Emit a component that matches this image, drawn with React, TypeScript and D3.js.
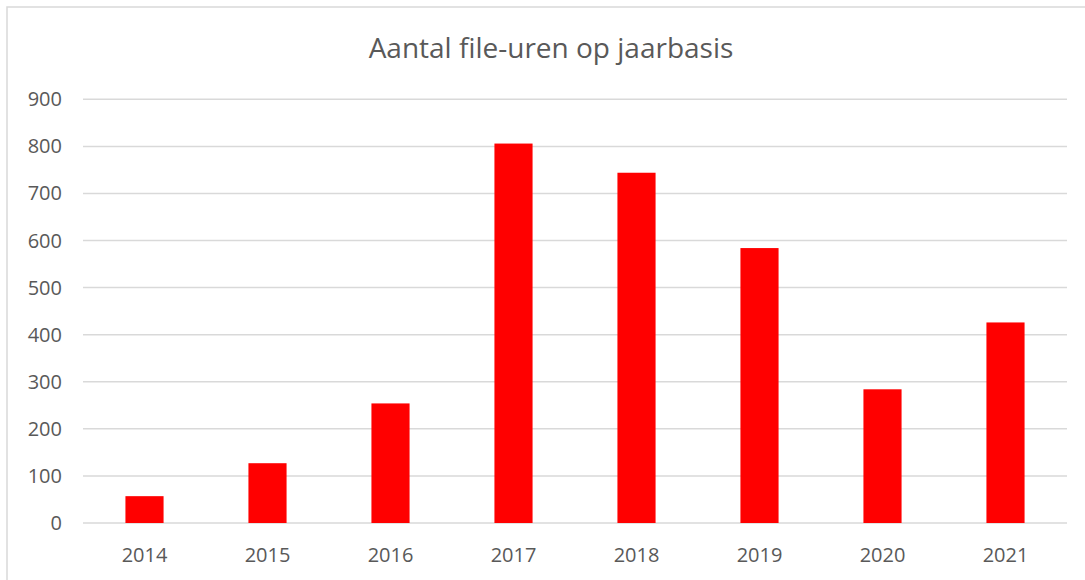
import * as d3 from "d3";
import { useEffect, useRef } from "react";

const years = ["2014", "2015", "2016", "2017", "2018", "2019", "2020", "2021"];
const fileUren = [57, 127, 254, 806, 744, 584, 284, 426];
const yTicks = [0, 100, 200, 300, 400, 500, 600, 700, 800, 900];
const title = "Aantal file-uren op jaarbasis";

const width = 1085;
const height = 580;

export default function App() {
  const svgRef = useRef<SVGSVGElement | null>(null);

  useEffect(() => {
    if (!svgRef.current) return;
    const svg = d3.select(svgRef.current);
    svg.selectAll("*").remove();

    const font = "'Open Sans', sans-serif";
    const textColor = "#595959";
    const gridColor = "#d9d9d9";

    // chart frame (only top and left edges are visible in the crop)
    svg
      .append("path")
      .attr("d", `M7,${height} L7,7 L${width},7`)
      .attr("fill", "none")
      .attr("stroke", gridColor)
      .attr("stroke-width", 1.5);

    const x = d3
      .scaleBand()
      .domain(years)
      .range([83, 1067])
      .paddingInner(0.69)
      .paddingOuter(0.345);

    const y = d3.scaleLinear().domain([0, 900]).range([523, 99.3]);

    // gridlines
    svg
      .append("g")
      .selectAll("line")
      .data(yTicks)
      .join("line")
      .attr("x1", 83)
      .attr("x2", 1067)
      .attr("y1", (d) => y(d))
      .attr("y2", (d) => y(d))
      .attr("stroke", gridColor)
      .attr("stroke-width", 1.5);

    // y labels
    svg
      .append("g")
      .selectAll("text")
      .data(yTicks)
      .join("text")
      .attr("x", 62)
      .attr("y", (d) => y(d))
      .attr("dy", "0.35em")
      .attr("text-anchor", "end")
      .attr("font-family", font)
      .attr("font-size", 20)
      .attr("fill", textColor)
      .text((d) => d);

    // bars
    svg
      .append("g")
      .selectAll("rect")
      .data(fileUren)
      .join("rect")
      .attr("x", (_, i) => x(years[i]) as number)
      .attr("y", (d) => y(d))
      .attr("width", x.bandwidth())
      .attr("height", (d) => y(0) - y(d))
      .attr("fill", "#ff0000");

    // x labels
    svg
      .append("g")
      .selectAll("text")
      .data(years)
      .join("text")
      .attr("x", (d) => (x(d) as number) + x.bandwidth() / 2)
      .attr("y", 562)
      .attr("text-anchor", "middle")
      .attr("font-family", font)
      .attr("font-size", 20)
      .attr("fill", textColor)
      .text((d) => d);

    svg
      .append("text")
      .attr("x", 551)
      .attr("y", 58)
      .attr("text-anchor", "middle")
      .attr("font-family", font)
      .attr("font-size", 28)
      .attr("fill", textColor)
      .text(title);
  }, []);

  return (
    <svg
      ref={svgRef}
      width={width}
      height={height}
      style={{ position: "absolute", left: 0, top: 0, background: "#fff" }}
    ></svg>
  );
}
